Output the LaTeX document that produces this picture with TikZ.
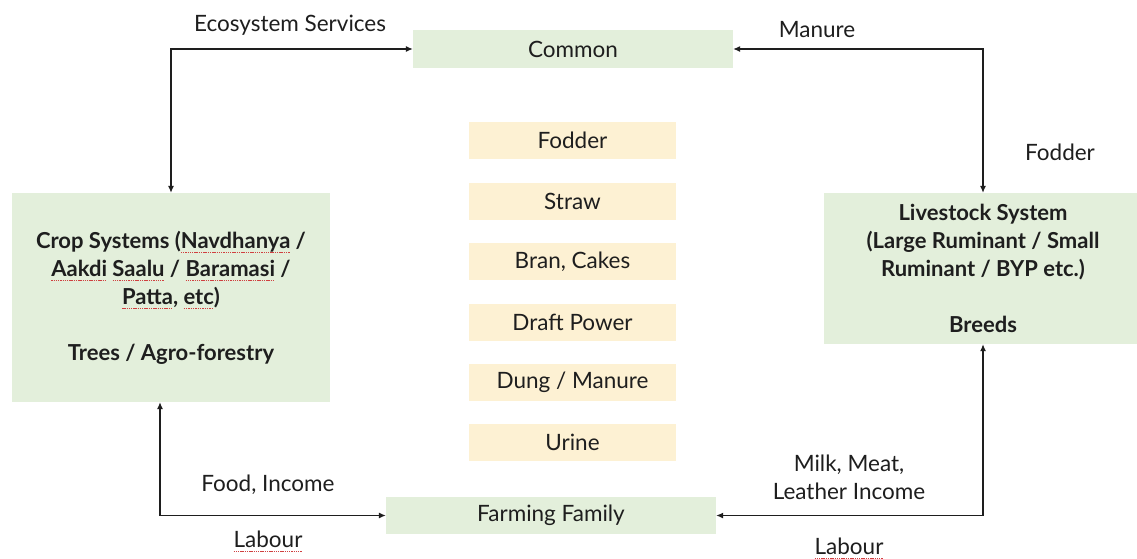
\documentclass[tikz,border=0pt]{standalone}
\usepackage{fontspec}
\setmainfont{Lato}
\usetikzlibrary{arrows.meta}
\definecolor{gbox}{HTML}{E3EFDB}
\definecolor{obox}{HTML}{FDF1D3}
\definecolor{ink}{HTML}{1E1E1E}
\definecolor{spellred}{HTML}{D04040}
\newsavebox\spellbox
\newcommand\spellmark[1]{\sbox\spellbox{#1}\leavevmode\rlap{\textcolor{spellred}{\hbox to \wd\spellbox{\xleaders\hbox{\rule[-4.5pt]{1.4pt}{0.8pt}\kern0.8pt}\hfill}}}\usebox\spellbox}
\begin{document}
\begin{tikzpicture}[x=1pt,y=-1pt,
  gnode/.style={fill=gbox,draw=none,inner sep=0pt,align=center,text=ink,font=\fontsize{22.5}{28}\selectfont},
  onode/.style={fill=obox,draw=none,minimum width=207pt,minimum height=37pt,inner sep=0pt,text=ink,font=\fontsize{22.5}{26}\selectfont},
  lbl/.style={text=ink,font=\fontsize{22.5}{28}\selectfont,align=center,inner sep=0pt},
  conn/.style={draw=ink,line width=1.1pt,{Latex[length=7pt,width=6pt]}-{Latex[length=7pt,width=6pt]}}]
\clip (0,0) rectangle (1137,558);
\fill[white] (0,0) rectangle (1137,558);
% main boxes
\node[gnode,minimum width=320pt,minimum height=38pt] (common) at (573,49) {Common};
\node[gnode,minimum width=318pt,minimum height=209pt,font=\bfseries\fontsize{22}{28}\selectfont] (crop) at (171,297.5)
  {Crop Systems (\spellmark{Navdhanya} /\\\spellmark{Aakdi} \spellmark{Saalu} / \spellmark{Baramasi} /\\\spellmark{Patta}, \spellmark{etc})\\[28pt]Trees / Agro-forestry};
\node[gnode,minimum width=318pt,minimum height=151pt,font=\bfseries\fontsize{22}{28}\selectfont] (live) at (983,268.5)
  {Livestock System\\(Large Ruminant / Small\\Ruminant / BYP etc.)\\[28pt]Breeds};
\node[gnode,minimum width=330pt,minimum height=37pt] (family) at (551,515.5) {Farming Family};
% resource boxes
\node[onode] (fodder) at (572.5,140) {Fodder};
\node[onode] (straw) at (572.5,201) {Straw};
\node[onode] (bran) at (572.5,261.5) {Bran, Cakes};
\node[onode] (draft) at (572.5,322) {Draft Power};
\node[onode] (dung) at (572.5,382) {Dung / Manure};
\node[onode] (urine) at (572.5,442.5) {Urine};
% connectors
\coordinate (bl) at (160,0);
\draw[conn] (crop.north) |- (common.west);
\draw[conn] (live.north) |- (common.east);
\draw[conn] (bl |- crop.south) |- (family.west);
\draw[conn] (live.south) |- (family.east);
% labels
\node[lbl] (l1) at (290,25) {Ecosystem Services};
\node[lbl] (l2) at (817,30) {Manure};
\node[lbl] (l3) at (1060,152) {Fodder};
\node[lbl] (l4) at (268,485) {Food, Income};
\node[lbl] (l5) at (268,541) {\spellmark{Labour}};
\node[lbl] (l6) at (849,477) {Milk, Meat,\\Leather Income};
\node[lbl] (l7) at (849,548) {\spellmark{Labour}};
\end{tikzpicture}
\end{document}
